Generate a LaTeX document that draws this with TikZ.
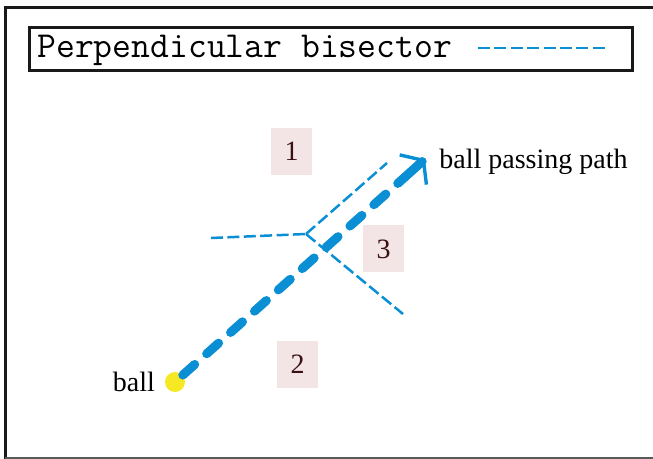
\documentclass[tikz,border=0pt]{standalone}
\usepackage{fontspec}
\setmainfont{Liberation Serif}
\usetikzlibrary{arrows.meta}
\definecolor{pathblue}{HTML}{0A8FD5}
\definecolor{ballyellow}{HTML}{F7E824}
\definecolor{boxpink}{HTML}{F3E5E5}
\definecolor{numred}{HTML}{3A1012}
\begin{document}
\begin{tikzpicture}[x=0.5pt,y=0.5pt,
  bisector/.style={pathblue, line width=1.25pt, dash pattern=on 6pt off 2.2pt},
  ballpath/.style={pathblue, line width=4.5pt, line cap=round, dash pattern=on 8pt off 8pt},
  pathtip/.style={pathblue, line width=4.5pt, line cap=round,
    -{Straight Barb[length=7pt, width=20pt, line width=1.7pt]}},
  numbox/.style={fill=boxpink, text=numred, minimum width=20.5pt, minimum height=23.5pt, inner sep=0pt}]
  \useasboundingbox (0,0) rectangle (653,459);
  \fontsize{14}{17}\selectfont
  \draw[line width=1.5pt, black!90] (653,451) -- (5,451) -- (5,0);
  \draw[line width=0.75pt, black!65] (5,1) -- (653,1);
  \draw[line width=1.5pt, black!90] (29,431) rectangle (632,388);
  \node[anchor=base west, inner sep=0pt] (title) at (37,401) {\fontsize{18.3}{21}\selectfont\ttfamily Perpendicular bisector};
  \draw[bisector] (478,411) -- (609,411);
  \node[numbox] (r1) at (291.5,307.5) {1};
  \node[numbox] (r3) at (383.5,210) {3};
  \node[numbox] (r2) at (297.5,94.5) {2};
  \coordinate (J) at (306,225);
  \coordinate (Jw) at (211,221);
  \coordinate (Jne) at (387,296);
  \coordinate (Jse) at (403,145);
  \draw[bisector] (Jw) -- (J);
  \draw[bisector] (J) -- (Jne);
  \draw[bisector] (J) -- (Jse);
  \node[circle, fill=ballyellow, minimum size=10pt, inner sep=0pt] (ball) at (175,77) {};
  \node[left] (balltext) at (ball.west) {ball};
  \coordinate (pre) at (405,282);
  \coordinate (tip) at (425,300);
  \draw[ballpath] (ball) -- (pre);
  \draw[pathtip] (pre) -- (tip);
  \node[anchor=base west, inner sep=0pt] (pathtext) at (439,290) {ball passing path};
\end{tikzpicture}
\end{document}
